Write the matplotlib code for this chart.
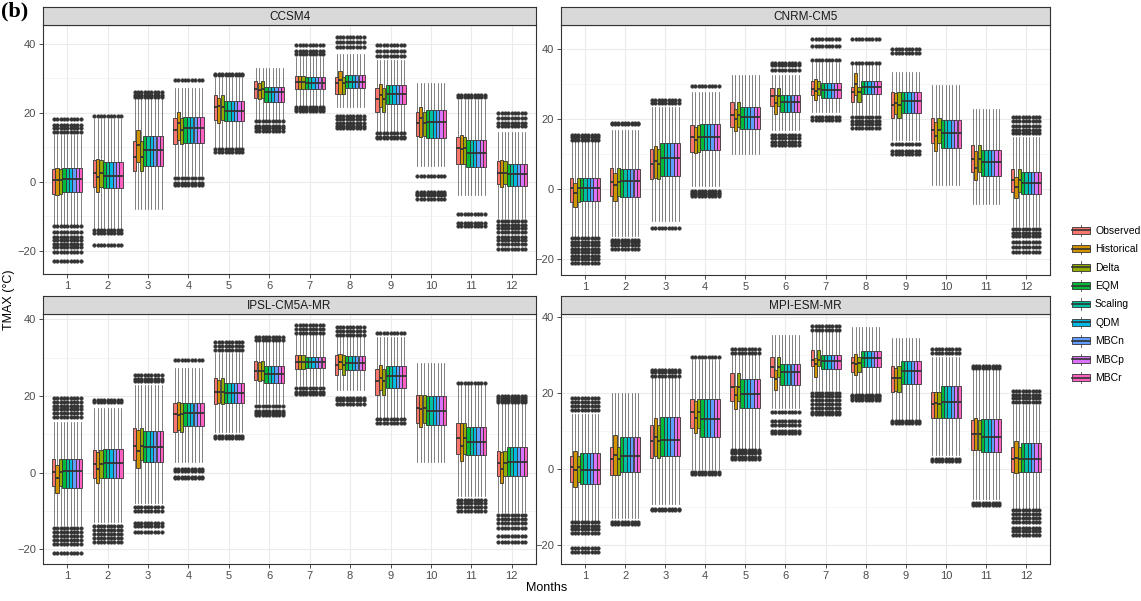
import numpy as np
import matplotlib
matplotlib.use('Agg')
import matplotlib.pyplot as plt
from matplotlib.patches import Rectangle
from matplotlib.lines import Line2D
from matplotlib.legend_handler import HandlerBase

plt.rcParams['font.family'] = ['Liberation Sans', 'DejaVu Sans']

months = list(range(1, 13))
methods = ['Observed', 'Historical', 'Delta', 'EQM', 'Scaling', 'QDM', 'MBCn', 'MBCp', 'MBCr']
colors = ['#F8766D', '#D39200', '#93AA00', '#00BA38', '#00C19F', '#00B9E3', '#619CFF', '#DB72FB', '#FF61C3']
# which set of box stats each method uses
method_group = ['obs', 'hist', 'obs', 'bc', 'bc', 'bc', 'bc', 'bc', 'bc']

# ---- CCSM4 ----
ccsm4_obs_q1 = [-3.5, -1.7, 3.2, 10.8, 17.9, 24.2, 26.9, 25.3, 20.3, 13.3, 5.0, -0.7]
ccsm4_obs_med = [0.5, 2.4, 7.2, 15.0, 21.7, 26.8, 29.0, 28.5, 24.0, 16.9, 9.7, 2.4]
ccsm4_obs_q3 = [3.7, 6.3, 11.8, 18.4, 25.1, 29.2, 30.7, 30.4, 27.0, 20.3, 12.9, 6.0]
ccsm4_hist_q1 = [-4.0, -3.1, 5.8, 12.1, 17.0, 24.0, 26.9, 25.3, 21.7, 12.8, 5.0, -1.7]
ccsm4_hist_med = [0.5, 1.4, 10.6, 17.0, 22.0, 26.5, 29.0, 29.5, 25.1, 18.4, 9.5, 2.5]
ccsm4_hist_q3 = [4.0, 6.5, 15.0, 20.3, 24.3, 28.5, 30.7, 32.1, 28.3, 21.7, 13.5, 6.3]
ccsm4_bc_q1 = [-3.0, -2.0, 4.6, 11.3, 17.6, 23.2, 26.9, 27.0, 22.4, 12.6, 4.3, -1.4]
ccsm4_bc_med = [0.8, 1.7, 9.2, 15.5, 20.5, 25.9, 28.7, 29.0, 25.5, 17.2, 8.2, 2.1]
ccsm4_bc_q3 = [3.8, 5.8, 13.3, 18.8, 23.4, 27.5, 30.2, 30.9, 28.0, 20.7, 12.1, 5.2]
ccsm4_lo = [-12.5, -13.5, -8.0, 2.0, 10.0, 18.0, 22.2, 21.5, 14.5, 4.5, -4.0, -10.6]
ccsm4_hi = [13.5, 18.0, 24.0, 27.0, 30.0, 33.0, 36.0, 37.0, 35.3, 28.5, 23.7, 14.5]
ccsm4_out_hi = [[14.5, 15.5, 16.5, 18], [19], [24.5, 25, 26], [29.5], [30.8, 31.3], [],
                [37, 38, 39.5], [39, 40.5, 42], [36.5, 38, 39.5], [], [24.5, 25], [16, 17, 18.5, 20]]
ccsm4_out_lo = [[-13, -14.5, -16, -17, -18, -19, -20.5, -23], [-14, -15, -18.5], [], [1, -0.5, -1],
                [9.5, 8.5], [17.5, 16, 15.5, 14.8], [21.5, 21, 20.5], [19, 18, 17, 16, 15.5],
                [14, 13, 12.5], [1.5, -3, -3.5, -4, -5], [-9.5, -12, -13],
                [-11.5, -12.5, -13.5, -14.5, -16, -17, -18, -19.5]]

# ---- CNRM-CM5 ----
cnrm_obs_q1 = [-3.7, -1.8, 3.0, 10.6, 17.9, 23.9, 26.8, 25.0, 20.3, 13.1, 4.8, -0.7]
cnrm_obs_med = [0.3, 2.2, 7.2, 14.8, 21.2, 26.5, 28.6, 27.7, 24.1, 16.8, 8.7, 2.5]
cnrm_obs_q3 = [3.3, 6.0, 11.5, 18.2, 24.8, 29.0, 31.0, 29.3, 27.7, 20.3, 12.5, 5.8]
cnrm_hist_q1 = [-5.0, -3.3, 3.1, 10.3, 16.7, 21.5, 25.5, 27.0, 21.4, 10.8, 2.5, -2.6]
cnrm_hist_med = [-1.0, 1.3, 8.0, 14.0, 20.0, 24.5, 28.0, 30.0, 24.7, 15.2, 6.2, 0.7]
cnrm_hist_q3 = [1.9, 4.6, 12.2, 17.7, 23.0, 27.0, 31.5, 33.1, 27.4, 19.3, 10.8, 3.6]
cnrm_bc_q1 = [-3.5, -2.1, 3.9, 11.1, 17.2, 22.0, 26.0, 27.1, 21.7, 11.7, 3.8, -1.4]
cnrm_bc_med = [0.3, 2.4, 8.9, 15.0, 20.6, 24.8, 28.4, 29.3, 25.3, 16.0, 7.7, 1.9]
cnrm_bc_q3 = [3.3, 5.8, 13.1, 18.7, 23.6, 27.0, 30.2, 30.8, 27.7, 19.8, 11.2, 4.9]
cnrm_lo = [-13.5, -13.5, -9.0, 1.0, 10.0, 17.0, 22.0, 21.5, 14.0, 1.2, -4.3, -10.5]
cnrm_hi = [13.8, 17.0, 23.4, 27.7, 32.7, 32.7, 36.0, 35.5, 33.6, 29.8, 23.0, 15.0]
cnrm_out_hi = [[14, 15, 15.5], [18.5, 18.8], [24.5, 25.5], [29.5], [], [34, 35.5, 36],
               [37, 41, 43], [36, 43], [39, 40], [], [], [16, 17, 18, 19.5, 20.5]]
cnrm_out_lo = [[-14, -15, -16, -17, -18, -19, -20, -21], [-14.5, -15, -16, -17], [-11],
               [-0.5, -1, -1.5, -2], [], [15.5, 14.5, 13.5, 12.5], [20.5, 19.8],
               [20.5, 19.5, 18.5, 17.5], [13, 11, 10], [], [], [-11.5, -12.5, -13.5, -15, -16.5, -18]]

# ---- IPSL-CM5A-MR ----
ipsl_obs_q1 = [-3.5, -1.5, 3.3, 10.7, 17.8, 24.2, 27.0, 25.5, 20.3, 13.1, 4.8, -0.9]
ipsl_obs_med = [0.3, 2.4, 7.0, 15.3, 21.1, 26.5, 28.8, 28.1, 23.9, 16.8, 9.1, 2.6]
ipsl_obs_q3 = [3.5, 5.9, 11.6, 18.3, 24.8, 29.1, 30.7, 30.7, 27.0, 20.4, 12.9, 5.7]
ipsl_hist_q1 = [-5.2, -2.8, 1.3, 11.1, 18.1, 23.9, 27.0, 27.0, 21.6, 12.0, 3.0, -2.6]
ipsl_hist_med = [-1.5, 1.1, 5.7, 15.1, 21.0, 26.5, 28.8, 29.0, 24.8, 16.5, 7.0, 1.1]
ipsl_hist_q3 = [2.0, 5.5, 11.1, 18.5, 24.2, 29.0, 30.7, 30.9, 28.1, 20.4, 12.9, 5.5]
ipsl_bc_q1 = [-3.9, -1.3, 2.9, 12.2, 18.1, 23.5, 27.2, 26.8, 22.2, 12.4, 4.6, -0.9]
ipsl_bc_med = [0.4, 2.6, 6.8, 15.5, 20.7, 25.7, 28.8, 28.5, 25.2, 16.1, 7.9, 2.9]
ipsl_bc_q3 = [3.5, 6.3, 10.9, 18.3, 23.3, 27.8, 30.3, 30.4, 27.8, 20.0, 12.0, 6.8]
ipsl_lo = [-13.5, -12.8, -8.0, 2.9, 10.7, 18.3, 22.9, 21.6, 14.5, 2.9, -6.0, -10.2]
ipsl_hi = [13.3, 16.8, 22.9, 27.4, 31.1, 34.0, 36.0, 35.5, 35.5, 28.5, 23.0, 18.0]
ipsl_out_hi = [[14.5, 15.5, 16.5, 17.5, 18.5, 19.5], [18.5, 19], [24, 24.5, 25.5], [29.5], [32, 33, 34],
               [34.5, 35.5], [36.5, 37.5, 38.5], [36, 37, 38], [36.5], [], [23.5], [18.5, 19, 19.5, 20]]
ipsl_out_lo = [[-14.5, -15.5, -16.5, -17.5, -18.5, -21], [-14, -15, -16, -17, -18], [-9, -10, -13, -14, -15.5],
               [1, 0.5, -1, -1.5], [9, 9.5], [15, 15.5, 16, 17.5], [20.5, 21, 22], [18, 19, 19.5],
               [13, 14], [], [-7, -8, -9, -10], [-11, -12, -13, -14.5, -16.5, -18]]

# ---- MPI-ESM-MR ----
mpi_obs_q1 = [-3.6, -1.7, 2.9, 10.6, 17.8, 24.2, 27.0, 25.4, 20.3, 13.2, 4.9, -0.8]
mpi_obs_med = [0.4, 2.5, 7.4, 15.0, 21.6, 26.8, 28.6, 27.7, 23.9, 17.0, 9.0, 2.6]
mpi_obs_q3 = [3.4, 5.8, 11.5, 18.2, 25.1, 29.5, 31.2, 29.5, 27.0, 20.3, 12.8, 5.8]
mpi_hist_q1 = [-4.9, -1.7, 3.2, 9.3, 15.7, 20.7, 24.2, 24.6, 20.4, 13.2, 4.9, -1.2]
mpi_hist_med = [-0.4, 3.6, 8.2, 13.2, 19.5, 23.5, 27.6, 27.6, 23.8, 17.2, 9.0, 2.8]
mpi_hist_q3 = [4.7, 8.9, 13.4, 17.8, 21.8, 26.0, 29.0, 30.1, 26.6, 20.1, 13.2, 7.3]
mpi_bc_q1 = [-4.1, -0.8, 3.2, 8.4, 15.9, 22.0, 26.2, 26.8, 22.2, 13.2, 4.3, -1.0]
mpi_bc_med = [-0.3, 3.2, 7.5, 13.1, 19.6, 25.4, 28.2, 29.0, 25.7, 17.6, 8.2, 2.5]
mpi_bc_q3 = [4.0, 8.2, 13.7, 18.3, 23.5, 27.5, 29.9, 31.0, 28.2, 21.8, 13.1, 6.7]
mpi_lo = [-13.5, -13.0, -9.4, 0.0, 5.5, 16.0, 20.7, 19.8, 13.0, 3.6, -8.0, -10.9]
mpi_hi = [14.5, 19.8, 24.0, 28.5, 30.0, 35.2, 36.0, 37.4, 34.3, 29.5, 26.0, 16.8]
mpi_out_hi = [[15.5, 16.5, 17.5, 18.5], [], [24.5, 25.5, 26], [29.5], [30.5, 31.5], [], [36.5, 37.5],
              [], [], [30.5, 31.5], [26.5, 27], [17.5, 18.5, 19.5, 20.5]]
mpi_out_lo = [[-14, -15, -16, -17, -21, -22], [-14, -14.5], [-10.5, -11], [-1, -1.5], [5, 4.5, 4, 3, 2.5],
              [15, 12.5, 11.5, 10, 9.5], [20, 19, 18, 17, 16, 15, 14.5], [19.5, 19, 18.5, 18],
              [12.5, 12], [2.5, 2], [-9, -9.5], [-11, -12, -13, -14, -15.5, -16.5, -17.5]]

panels = [
    ('CCSM4', (ccsm4_obs_q1, ccsm4_obs_med, ccsm4_obs_q3), (ccsm4_hist_q1, ccsm4_hist_med, ccsm4_hist_q3),
     (ccsm4_bc_q1, ccsm4_bc_med, ccsm4_bc_q3), ccsm4_lo, ccsm4_hi, ccsm4_out_hi, ccsm4_out_lo, (-26.8, 45.4)),
    ('CNRM-CM5', (cnrm_obs_q1, cnrm_obs_med, cnrm_obs_q3), (cnrm_hist_q1, cnrm_hist_med, cnrm_hist_q3),
     (cnrm_bc_q1, cnrm_bc_med, cnrm_bc_q3), cnrm_lo, cnrm_hi, cnrm_out_hi, cnrm_out_lo, (-24.5, 46.9)),
    ('IPSL-CM5A-MR', (ipsl_obs_q1, ipsl_obs_med, ipsl_obs_q3), (ipsl_hist_q1, ipsl_hist_med, ipsl_hist_q3),
     (ipsl_bc_q1, ipsl_bc_med, ipsl_bc_q3), ipsl_lo, ipsl_hi, ipsl_out_hi, ipsl_out_lo, (-23.8, 41.4)),
    ('MPI-ESM-MR', (mpi_obs_q1, mpi_obs_med, mpi_obs_q3), (mpi_hist_q1, mpi_hist_med, mpi_hist_q3),
     (mpi_bc_q1, mpi_bc_med, mpi_bc_q3), mpi_lo, mpi_hi, mpi_out_hi, mpi_out_lo, (-25.1, 40.7)),
]

W, H = 1141, 601
fig = plt.figure(figsize=(W / 100, H / 100), dpi=100)
fig.patch.set_facecolor('white')

# panel rectangles in pixels: x0, x1, ytop, ybottom
boxes_px = [(43, 536, 25, 274), (561, 1050, 25, 275), (43, 536, 314, 564), (561, 1050, 314, 564)]
strip_h = 18

dark = '#333333'
group_w = 0.75
bw = group_w / len(methods)

for (name, obs, hist, bc, lo, hi, out_hi, out_lo, ylim), (x0, x1, yt, yb) in zip(panels, boxes_px):
    ax = fig.add_axes([x0 / W, 1 - yb / H, (x1 - x0) / W, (yb - yt) / H])
    sax = fig.add_axes([x0 / W, 1 - yt / H, (x1 - x0) / W, strip_h / H])
    sax.set_facecolor('#D9D9D9')
    sax.set_xticks([])
    sax.set_yticks([])
    for s in sax.spines.values():
        s.set_color(dark)
        s.set_linewidth(0.8)
    sax.text(0.5, 0.45, name, ha='center', va='center', fontsize=8.5, color='#1A1A1A', transform=sax.transAxes)

    sets = {'obs': obs, 'hist': hist, 'bc': bc}
    for i, (meth, col, grp) in enumerate(zip(methods, colors, method_group)):
        q1, med, q3 = sets[grp]
        stats = []
        for m in range(12):
            stats.append({'q1': q1[m], 'med': med[m], 'q3': q3[m],
                          'whislo': lo[m], 'whishi': hi[m],
                          'fliers': np.array(out_hi[m] + out_lo[m])})
        pos = [mo + (i - 4) * bw for mo in months]
        ax.bxp(stats, positions=pos, widths=bw * 0.98, patch_artist=True, showcaps=False,
               boxprops=dict(facecolor=col, edgecolor=dark, linewidth=0.6),
               medianprops=dict(color=dark, linewidth=1.3),
               whiskerprops=dict(color='#4D4D4D', linewidth=0.5),
               flierprops=dict(marker='o', markersize=2.6, markerfacecolor=dark,
                               markeredgecolor=dark, markeredgewidth=0.3, linestyle='none'),
               manage_ticks=False, zorder=3)

    ax.set_xlim(0.4, 12.6)
    ax.set_ylim(*ylim)
    ax.set_xticks(months)
    ax.set_xticklabels([str(m) for m in months])
    ax.set_yticks([-20, 0, 20, 40])
    ax.set_yticks([-10, 10, 30], minor=True)
    ax.grid(which='major', color='#EBEBEB', linewidth=0.8, zorder=0)
    ax.grid(which='minor', axis='y', color='#F2F2F2', linewidth=0.5, zorder=0)
    ax.set_axisbelow(True)
    ax.tick_params(which='major', length=3, width=0.6, color=dark, labelcolor='#4D4D4D', labelsize=8, pad=2)
    ax.tick_params(which='minor', length=0)
    for s in ax.spines.values():
        s.set_color(dark)
        s.set_linewidth(0.8)


class BoxKey(HandlerBase):
    def create_artists(self, legend, orig_handle, xdescent, ydescent, width, height, fontsize, trans):
        col = orig_handle.get_facecolor()
        cx = width / 2 - xdescent
        whisk = Line2D([cx, cx], [-ydescent, height - ydescent], color='#4D4D4D', lw=0.6, transform=trans)
        rect = Rectangle((-xdescent + width * 0.1, -ydescent + height * 0.2), width * 0.8, height * 0.6,
                         facecolor=col, edgecolor=dark, lw=0.6, transform=trans)
        med = Line2D([-xdescent + width * 0.1, -xdescent + width * 0.9],
                     [height / 2 - ydescent] * 2, color=dark, lw=1.2, transform=trans)
        return [whisk, rect, med]


handles = [Rectangle((0, 0), 1, 1, facecolor=c) for c in colors]
fig.legend(handles, methods, handler_map={Rectangle: BoxKey()}, loc='center left',
           bbox_to_anchor=(1070 / W, 1 - 304 / H), frameon=False, fontsize=7.5,
           borderpad=0, borderaxespad=0, handlelength=2.1, handleheight=1.3,
           labelspacing=0.68, handletextpad=0.3)

fig.text(547 / W, 1 - 588 / H, 'Months', ha='center', va='center', fontsize=9, color='black')
fig.text(9 / W, 1 - 300 / H, 'TMAX (°C)', ha='center', va='center', rotation=90, fontsize=9, color='black')
fig.text(1 / W, 1 - 16 / H, '(b)', family='Liberation Serif', fontweight='bold', fontsize=16,
         va='baseline', ha='left')

fig.savefig('out.png', dpi=100)
